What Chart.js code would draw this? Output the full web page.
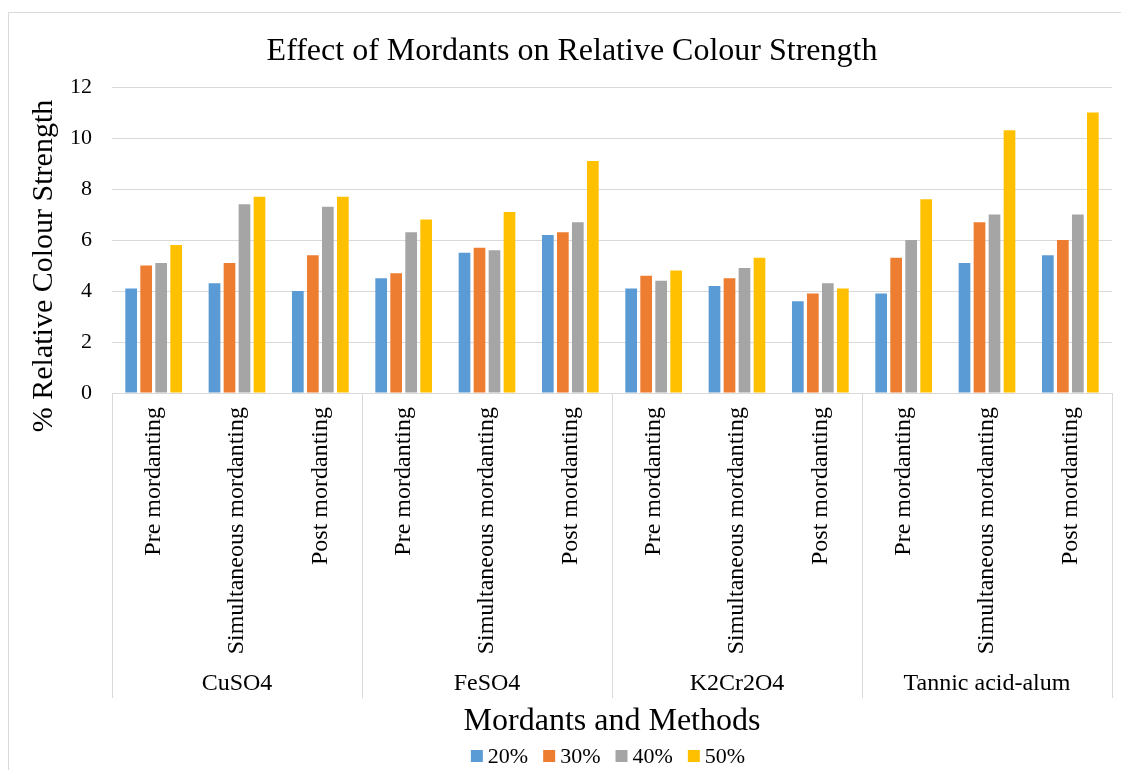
<!DOCTYPE html>
<html>
<head>
<meta charset="utf-8">
<script src="https://cdn.jsdelivr.net/npm/chart.js@4"></script>
<style>
  html, body { margin: 0; padding: 0; background: #fff; }
  #wrap { width: 1121px; height: 770px; position: relative; }
</style>
</head>
<body>
<div id="wrap"><canvas id="chart" width="1121" height="770"></canvas></div>
<script>
// data
const methods = ['Pre mordanting', 'Simultaneous mordanting', 'Post mordanting'];
const mordants = ['CuSO4', 'FeSO4', 'K2Cr2O4', 'Tannic acid-alum'];
const seriesNames = ['20%', '30%', '40%', '50%'];
const s20 = [4.1, 4.3, 4.0, 4.5, 5.5, 6.2, 4.1, 4.2, 3.6, 3.9, 5.1, 5.4];
const s30 = [5.0, 5.1, 5.4, 4.7, 5.7, 6.3, 4.6, 4.5, 3.9, 5.3, 6.7, 6.0];
const s40 = [5.1, 7.4, 7.3, 6.3, 5.6, 6.7, 4.4, 4.9, 4.3, 6.0, 7.0, 7.0];
const s50 = [5.8, 7.7, 7.7, 6.8, 7.1, 9.1, 4.8, 5.3, 4.1, 7.6, 10.3, 11.0];
const yTicks = [0, 2, 4, 6, 8, 10, 12];

const colors = ['#5B9BD5', '#ED7D31', '#A5A5A5', '#FFC000'];
const serif = '"Liberation Serif", "Times New Roman", serif';

// one label per bar group
const labels = [];
mordants.forEach(() => methods.forEach(m => labels.push(m)));

const datasets = [s20, s30, s40, s50].map((d, i) => ({
  label: seriesNames[i],
  data: d,
  backgroundColor: colors[i],
  borderWidth: 0,
  categoryPercentage: 0.72,
  barPercentage: 0.78
}));

// draws title, axis titles, group row with separators, and the legend
const decor = {
  id: 'decor',
  afterDraw(chart) {
    const c = chart.ctx;
    const area = chart.chartArea;
    c.save();

    // outer frame
    c.strokeStyle = '#d9d9d9';
    c.lineWidth = 1;
    c.beginPath();
    c.moveTo(8.5, 770);
    c.lineTo(8.5, 12.5);
    c.lineTo(1121, 12.5);
    c.stroke();

    // group separators
    const step = (area.right - area.left) / labels.length;
    c.beginPath();
    for (let g = 0; g <= mordants.length; g++) {
      const px = Math.round(area.left + g * methods.length * step) + 0.5;
      c.moveTo(px, area.bottom);
      c.lineTo(px, 698);
    }
    c.stroke();

    c.fillStyle = '#000';
    c.textAlign = 'center';
    c.textBaseline = 'middle';

    // group labels
    c.font = '24px ' + serif;
    mordants.forEach((m, g) => {
      const cx = area.left + (g + 0.5) * methods.length * step;
      c.fillText(m, cx, 684);
    });

    // chart title
    c.font = '32px ' + serif;
    c.fillText('Effect of Mordants on Relative Colour Strength', 572, 52);

    // x axis title
    c.fillText('Mordants and Methods', (area.left + area.right) / 2, 722);

    // y axis title
    c.save();
    c.translate(44, 266);
    c.rotate(-Math.PI / 2);
    c.font = '30px ' + serif;
    c.fillText('% Relative Colour Strength', 0, 0);
    c.restore();

    // legend
    c.font = '22px ' + serif;
    c.textAlign = 'left';
    const box = 12, gapBox = 5, gapItem = 15;
    const widths = seriesNames.map(n => box + gapBox + c.measureText(n).width);
    const total = widths.reduce((a, b) => a + b, 0) + gapItem * (widths.length - 1);
    let lx = 608 - total / 2;
    const ly = 756;
    seriesNames.forEach((n, i) => {
      c.fillStyle = colors[i];
      c.fillRect(lx, ly - box / 2, box, box);
      c.fillStyle = '#000';
      c.fillText(n, lx + box + gapBox, ly + 1);
      lx += widths[i] + gapItem;
    });

    c.restore();
  }
};

new Chart(document.getElementById('chart'), {
  type: 'bar',
  data: { labels: labels, datasets: datasets },
  plugins: [decor],
  options: {
    responsive: false,
    animation: false,
    layout: { padding: { top: 87, right: 9, bottom: 0, left: 0 } },
    plugins: {
      legend: { display: false },
      title: { display: false },
      tooltip: { enabled: false }
    },
    scales: {
      x: {
        afterFit: s => { s.height = 377; },
        grid: { display: false, drawTicks: false },
        border: { display: true, color: '#d9d9d9', width: 1 },
        ticks: {
          autoSkip: false,
          minRotation: 90,
          maxRotation: 90,
          padding: 14,
          color: '#000',
          font: { family: serif, size: 24 }
        }
      },
      y: {
        min: 0,
        max: 12,
        afterFit: s => { s.width = 112; },
        afterBuildTicks: s => { s.ticks = yTicks.map(v => ({ value: v })); },
        grid: { color: '#d9d9d9', lineWidth: 1, drawTicks: false },
        border: { display: false },
        ticks: {
          padding: 20,
          color: '#000',
          font: { family: serif, size: 22 }
        }
      }
    }
  }
});
</script>
</body>
</html>
